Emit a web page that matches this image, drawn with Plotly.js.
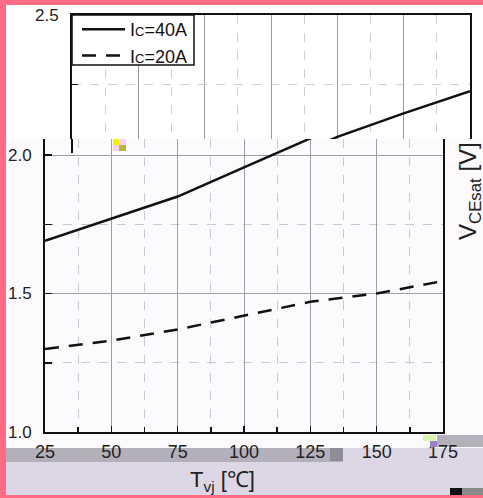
<!DOCTYPE html>
<html>
<head>
<meta charset="utf-8">
<script src="https://cdn.plot.ly/plotly-3.0.1.min.js"></script>
<style>html,body{margin:0;padding:0;background:#ff6b84;}#chart{width:483px;height:498px;}</style>
</head>
<body>
<div id="chart"></div>
<script>
// Data
const temps = [25, 50, 75, 100, 125, 150, 175];
const vce40 = [1.69, 1.77, 1.85, 1.955, 2.06, 2.145, 2.225];
const vce20 = [1.30, 1.33, 1.37, 1.42, 1.47, 1.50, 1.545];
const xTickVals = [25, 50, 75, 100, 125, 150, 175];
const xTickText = ['25', '50', '75', '100', '125', '150', '175'];
const seriesNames = ["I<span style='font-size:13px'>C</span>=40A", "I<span style='font-size:13px'>C</span>=20A"];

const W = 483, H = 498;
const px = x => x / W;
const py = y => 1 - y / H;
const FONT = 'Liberation Sans, Arial, sans-serif';

function rect(x0, y0, x1, y1, color, layer) {
  return {type: 'rect', xref: 'paper', yref: 'paper', x0: px(x0), x1: px(x1), y0: py(y1), y1: py(y0),
          fillcolor: color, line: {width: 0}, layer: layer || 'below'};
}

const lineSolid = {color: '#111', width: 2.5};
const lineDash = {color: '#111', width: 2.5, dash: '14px,10px'};

const traces = [
  {x: temps, y: vce40, xaxis: 'x', yaxis: 'y', mode: 'lines', name: seriesNames[0], line: lineSolid},
  {x: temps, y: vce20, xaxis: 'x', yaxis: 'y', mode: 'lines', name: seriesNames[1], line: lineDash},
  {x: temps, y: vce40, xaxis: 'x2', yaxis: 'y2', mode: 'lines', showlegend: false, line: lineSolid},
  {x: temps, y: vce20, xaxis: 'x2', yaxis: 'y2', mode: 'lines', showlegend: false, line: lineDash}
];

const majGrid = '#a09cab';
const minGrid = '#cbc7d4';

const legendBox = {type: 'rect', xref: 'paper', yref: 'paper', x0: px(72), x1: px(194), y0: py(65), y1: py(15),
  fillcolor: '#ffffff', line: {color: '#111', width: 1.5}, layer: 'above'};

const layout = {
  width: W, height: H,
  margin: {l: 0, r: 0, t: 0, b: 0},
  paper_bgcolor: '#ff6b84',
  plot_bgcolor: 'rgba(0,0,0,0)',
  font: {family: FONT, size: 17, color: '#222'},
  showlegend: true,
  legend: {
    x: px(77), y: py(11), xanchor: 'left', yanchor: 'top',
    bgcolor: 'rgba(0,0,0,0)', borderwidth: 0,
    font: {family: FONT, size: 18, color: '#111'},
    itemwidth: 43,
    tracegroupgap: 0
  },
  xaxis: {
    domain: [px(45), px(443)], range: [25, 175], anchor: 'y',
    tickvals: xTickVals, ticktext: xTickText,
    showline: true, linecolor: '#111', linewidth: 2, mirror: false,
    ticks: 'inside', ticklen: 6, tickwidth: 1.5, tickcolor: '#111',
    ticklabelstandoff: 2,
    tickfont: {family: FONT, size: 18, color: '#222'},
    showgrid: true, gridcolor: majGrid, gridwidth: 1,
    minor: {dtick: 12.5, tick0: 25, ticks: 'inside', ticklen: 5, tickcolor: '#111', showgrid: true, gridcolor: minGrid, griddash: 'dash', gridwidth: 1},
    zeroline: false, fixedrange: true
  },
  yaxis: {
    domain: [py(432), py(139)], range: [1.0, 1.0 + 293 / 277], anchor: 'x',
    tickvals: [1.0, 1.5, 2.0], ticktext: ['1.0', '1.5', '2.0'],
    showline: true, linecolor: '#111', linewidth: 2, mirror: true,
    ticks: 'inside', ticklen: 7, tickwidth: 1.5, tickcolor: '#111',
    ticklabelstandoff: 8,
    tickfont: {family: FONT, size: 17, color: '#222'},
    showgrid: true, gridcolor: majGrid, gridwidth: 1,
    minor: {dtick: 0.25, tick0: 1.0, ticks: 'inside', ticklen: 7, tickcolor: '#111', showgrid: true, gridcolor: minGrid, griddash: 'dash', gridwidth: 1},
    zeroline: false, fixedrange: true
  },
  xaxis2: {
    domain: [px(72), px(470)], range: [25, 175], anchor: 'y2', side: 'top',
    tickvals: xTickVals, showticklabels: false,
    showline: true, linecolor: '#111', linewidth: 2, mirror: false,
    ticks: '',
    showgrid: true, gridcolor: '#9a9a9a', gridwidth: 1,
    minor: {dtick: 12.5, tick0: 25, ticks: '', showgrid: true, gridcolor: '#cfcfcf', griddash: 'dash', gridwidth: 1},
    zeroline: false, fixedrange: true
  },
  yaxis2: {
    domain: [py(139), py(15)], range: [2.5 - 124 / 277, 2.5], anchor: 'x2',
    tickvals: [2.25, 2.5], ticktext: ['', '2.5'],
    showline: true, linecolor: '#111', linewidth: 2, mirror: true,
    ticks: 'inside', ticklen: 6, tickwidth: 1.5, tickcolor: '#111',
    ticklabelstandoff: 8,
    tickfont: {family: FONT, size: 17, color: '#222'},
    showgrid: true, gridcolor: '#cfcfcf', griddash: 'dash', gridwidth: 1,
    zeroline: false, fixedrange: true
  },
  shapes: [
    rect(6, 5, 483, 139, '#ffffff'),
    rect(6, 139, 483, 448, '#fcfafd'),
    rect(6, 448, 483, 495, '#ddd6e5'),
    rect(6, 448, 343, 462, '#b3b0bb'),
    rect(437, 435, 483, 447, '#b3b0bb'),
    rect(450, 488, 462, 495, '#111111', 'above'),
    rect(462, 488, 483, 495, '#8a8a8a', 'above'),
    // small glitch artifacts
    rect(113, 139, 119, 145, '#f2f200', 'above'),
    rect(119, 139, 126, 145, '#f8d0f0', 'above'),
    rect(113, 145, 119, 151, '#f8d0f0', 'above'),
    rect(119, 145, 126, 151, '#b8b830', 'above'),
    rect(423, 435, 436, 441, '#d8f5b0', 'above'),
    rect(430, 441, 437, 447, '#9a80c8', 'above'),
    rect(330, 448, 343, 461, '#8e8c96', 'above'),
    {type: 'line', xref: 'paper', yref: 'paper', x0: px(72), x1: px(72), y0: py(139), y1: py(153), line: {color: '#111', width: 2}},
    legendBox
  ],
  annotations: [
    {xref: 'paper', yref: 'paper', x: px(222), y: py(481), xanchor: 'center', yanchor: 'middle', showarrow: false,
     text: 'T<sub>vj</sub> [℃]', font: {family: FONT, size: 22, color: '#222'}},
    {xref: 'paper', yref: 'paper', x: px(469), y: py(191), xanchor: 'center', yanchor: 'middle', showarrow: false,
     textangle: -90, text: 'V<sub>CEsat</sub> [V]', font: {family: FONT, size: 24, color: '#222'}}
  ]
};

Plotly.newPlot('chart', traces, layout, {staticPlot: true, displayModeBar: false});
</script>
</body>
</html>
